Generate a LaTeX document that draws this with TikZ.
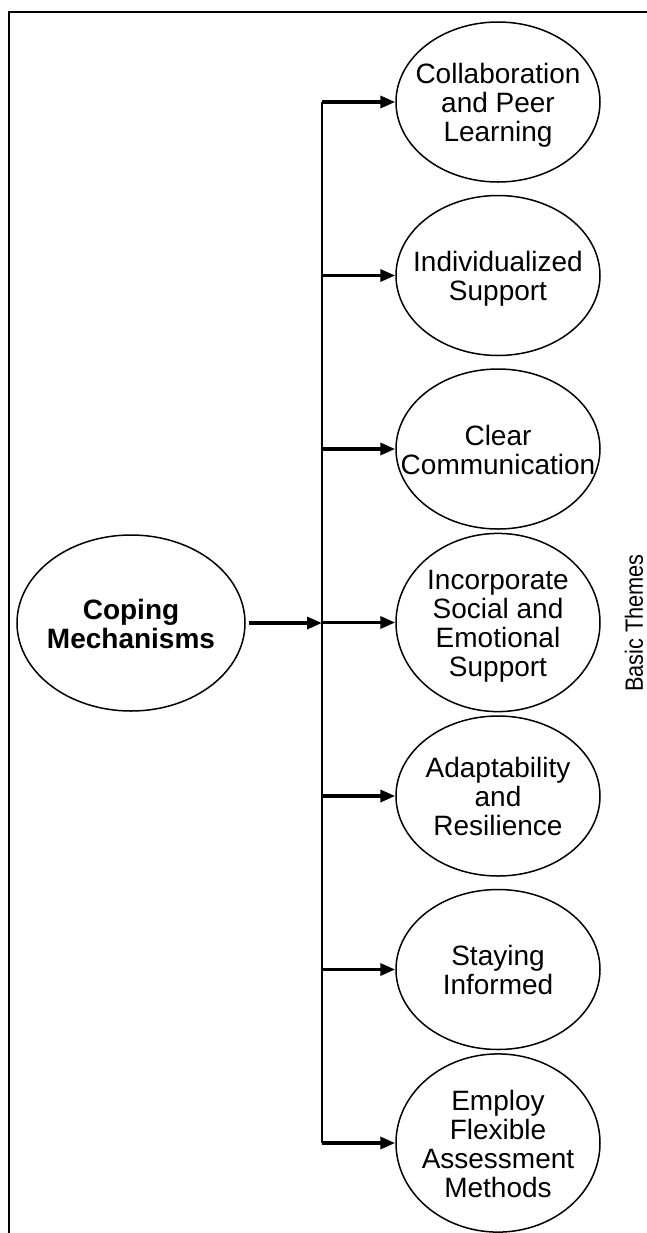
\documentclass[tikz,border=0pt]{standalone}
\usepackage{fontspec}
\setmainfont{Liberation Sans}
\newfontfamily\narrowsans[FakeStretch=0.87]{Liberation Sans}
\usetikzlibrary{shapes.geometric,arrows.meta}
\newcommand{\themefont}{\fontsize{14}{14.5}\selectfont}
\newcommand{\themetext}[1]{\makebox[0pt]{\raisebox{0pt}[\dimexpr\height+5pt\relax][\depth]{\begin{tabular}{@{}c@{}}#1\end{tabular}}}}
\tikzset{
	theme/.style={ellipse,draw,line width=0.75pt,minimum width=102pt,minimum height=80pt,inner sep=0pt,font=\themefont},
	branch/.style={line width=1.7pt,-{Triangle[length=7.5pt,width=6pt]}}
}

\begin{document}
\begin{tikzpicture}[x=0.5pt,y=-0.5pt]
	\useasboundingbox (0,0) rectangle (647,1233);
	\draw[line width=1.1pt] (9,1233) -- (9,12) -- (647,12);
	\node[theme,minimum width=114pt,minimum height=88pt,font=\themefont\bfseries] (cope) at (131,623) {\themetext{Coping\\Mechanisms}};
	\foreach \i/\txt in {1/{Collaboration\\and Peer\\Learning},2/{Individualized\\Support},3/{Clear\\Communication},4/{Incorporate\\Social and\\Emotional\\Support},5/{Adaptability\\and\\Resilience},6/{Staying\\Informed},7/{Employ\\Flexible\\Assessment\\Methods}} {
		\pgfmathsetmacro{\ypos}{102+173.5*(\i-1)}
		\node[theme] (th\i) at (498,\ypos) {\themetext{\txt}};
		\coordinate (t\i) at (322,\ypos);
		\draw[branch] (t\i) -- (th\i);
	}
	\draw[line width=1.3pt] (t1) -- (t7);
	\coordinate (hub) at (322,623);
	\draw[branch,shorten <=1.5pt] (cope) -- (hub);
	\node[rotate=90,font=\narrowsans\fontsize{12.5}{12.5}\selectfont] (basic) at (634,623) {Basic Themes};
\end{tikzpicture}
\end{document}
